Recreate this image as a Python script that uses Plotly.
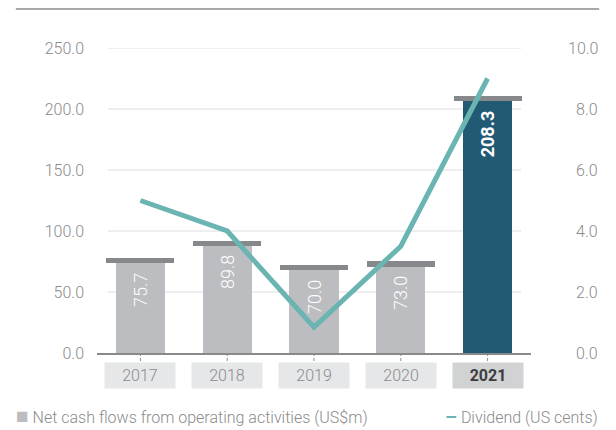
import plotly.graph_objects as go

years = ["2017", "2018", "2019", "2020", "2021"]
cash_flows = [75.7, 89.8, 70.0, 73.0, 208.3]
dividend = [5.0, 4.0, 0.85, 3.5, 9.0]
left_ticks = [0, 50, 100, 150, 200, 250]
right_ticks = [0, 2, 4, 6, 8, 10]

FONT = "Roboto, sans-serif"
GREY_TXT = "#8a8b8d"
xs = list(range(len(years)))

bar_colors = ["#bcbdc0"] * 4 + ["#235a73"]
pad = "\u00a0\u00a0"
bar_text = [f"{v:.1f}{pad}" for v in cash_flows[:-1]] + [f"<b>{cash_flows[-1]:.1f}</b>{pad}"]

fig = go.Figure()
fig.add_trace(go.Bar(
    x=xs, y=cash_flows, width=0.565, marker=dict(color=bar_colors, line=dict(width=0)),
    text=bar_text, textposition="inside", insidetextanchor="end", textangle=-90,
    textfont=dict(color="white", size=18, family=FONT, weight=300), constraintext="none",
    hoverinfo="skip", showlegend=False,
))
cap_h = 4.2
fig.add_trace(go.Bar(
    x=xs, y=[cap_h] * len(xs), base=[v - cap_h / 2 for v in cash_flows], width=0.785,
    marker=dict(color="#87888b", line=dict(width=0)), hoverinfo="skip", showlegend=False,
))
fig.add_trace(go.Scatter(
    x=xs, y=dividend, yaxis="y2", mode="lines",
    line=dict(color="#6ab4b1", width=5), hoverinfo="skip", showlegend=False,
))

shapes = []
for t in left_ticks[1:]:
    shapes.append(dict(type="line", xref="paper", yref="y", x0=0.025, x1=0.977, y0=t, y1=t,
                       line=dict(color="#dcdddf", width=1), layer="below"))
for x in xs:
    shapes.append(dict(type="line", xref="x", yref="paper", x0=x, x1=x, y0=0, y1=-0.036,
                       line=dict(color="#8a8b8d", width=1, dash="3px,2px")))
shapes.append(dict(type="line", xref="paper", yref="paper", x0=-0.187, x1=1.157, y0=1.128, y1=1.128,
                   line=dict(color="#8c8c8c", width=1.5)))

annotations = []
for i, y in enumerate(years):
    last = i == len(years) - 1
    annotations.append(dict(
        x=i, xref="x", y=-0.075, yref="paper", yanchor="middle", xanchor="center",
        text=f"<b>{y}</b>" if last else y, showarrow=False, width=68, height=23,
        bgcolor="#d1d2d4" if last else "#e6e7e8",
        font=dict(family=FONT, size=16, color="#3d3d3d" if last else GREY_TXT,
                  weight=700 if last else 300),
    ))
for t in right_ticks:
    annotations.append(dict(
        x=1.159, xref="paper", y=t, yref="y2", xanchor="right", yanchor="middle",
        text=f"{t:.1f}", showarrow=False, font=dict(family=FONT, size=16, color=GREY_TXT, weight=300),
    ))
annotations.append(dict(
    x=-0.191, xref="paper", y=-0.207, yref="paper", xanchor="left", yanchor="middle",
    text="<span style='color:#bcbdc0;font-size:21px'>■</span> Net cash flows from operating activities (US$m)",
    showarrow=False, font=dict(family=FONT, size=16, color=GREY_TXT, weight=300),
))
annotations.append(dict(
    x=1.159, xref="paper", y=-0.207, yref="paper", xanchor="right", yanchor="middle",
    text="<span style='color:#6ab4b1;font-size:19px'><b>–</b></span> Dividend (US cents)",
    showarrow=False, font=dict(family=FONT, size=16, color=GREY_TXT, weight=300),
))

fig.update_layout(
    width=616, height=430,
    margin=dict(l=97, r=85, t=48, b=77),
    paper_bgcolor="white", plot_bgcolor="white",
    barmode="overlay", bargap=0,
    font=dict(family=FONT, size=16, color=GREY_TXT),
    xaxis=dict(range=[-0.5, 4.5], showticklabels=False, ticks="", showgrid=False, zeroline=False,
               showline=True, linecolor="#88898b", linewidth=2, fixedrange=True),
    yaxis=dict(range=[0, 250], tickvals=left_ticks, ticktext=[f"{t:.1f}" for t in left_ticks],
               showgrid=False, zeroline=False, showline=False, ticks="", ticklabelstandoff=12,
               tickfont=dict(family=FONT, size=16, color=GREY_TXT, weight=300)),
    yaxis2=dict(range=[0, 10], overlaying="y", side="right", showticklabels=False, showgrid=False,
                zeroline=False, showline=False, ticks=""),
    shapes=shapes, annotations=annotations,
)

fig.write_html("out.html")
